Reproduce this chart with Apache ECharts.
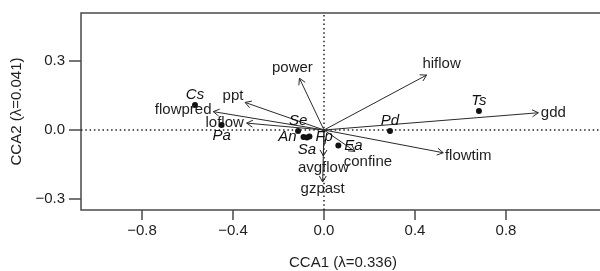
<!DOCTYPE html>
<html><head><meta charset="utf-8">
<script src="https://cdn.jsdelivr.net/npm/echarts@6/dist/echarts.min.js"></script>
<style>html,body{margin:0;padding:0;background:#fff}#c{width:600px;height:271px}</style>
</head><body><div id="c"></div>
<script>
// Environmental variable arrows (biplot scores)
const arrowNames = ['hiflow','gdd','flowtim','confine','avgflow','gzpast','power','ppt','flowpred','loflow'];
const arrowX = [0.451, 0.942, 0.524, 0.136, -0.003, -0.006, -0.108, -0.347, -0.487, -0.340];
const arrowY = [0.239, 0.075, -0.099, -0.093, -0.113, -0.226, 0.225, 0.120, 0.080, 0.030];
// Species scores
const speciesNames = ['Cs','Pa','Ts','Pd','Ea','Se','An','Sa','Fp'];
const speciesX = [-0.567, -0.450, 0.681, 0.290, 0.063, -0.114, -0.090, -0.075, -0.064];
const speciesY = [0.109, 0.022, 0.083, -0.004, -0.067, -0.004, -0.030, -0.033, -0.028];
// Tick labels
const xTicks = [-0.8, -0.4, 0, 0.4, 0.8];
const yTicks = [-0.3, 0, 0.3];
const xTitle = 'CCA1 (\u03bb=0.336)';
const yTitle = 'CCA2 (\u03bb=0.041)';

// label placement (styling)
const arrowLabelOffset = {
  hiflow:[15,-11], gdd:[15,0], flowtim:[25,3], confine:[13,10], avgflow:[0,12],
  gzpast:[0,7], power:[-7,-10], ppt:[-12,-7], flowpred:[-30,-2], loflow:[-22,0]
};
const speciesLabelPos = {
  Cs:['top',0], Pa:['bottom',0], Ts:['top',0], Pd:['top',0], Ea:['right',3],
  Se:['top',0], An:['left',4], Sa:['bottom',2], Fp:['right',3]
};

const FONT = "'Liberation Sans', Arial, sans-serif";
const TXT = '#1e1e1e';
const fmt = v => (v < 0 ? '\u2212' : '') + Math.abs(v).toFixed(1);

const chart = echarts.init(document.getElementById('c'), null, {renderer:'canvas'});
chart.setOption({
  animation: false,
  backgroundColor: '#fff',
  grid: {left: 81, top: 13, width: 524, height: 197, show: true, borderColor: '#4a4a4a', borderWidth: 1.5,
         backgroundColor: 'transparent', containLabel: false, outerBoundsMode: 'none'},
  xAxis: {
    type: 'value', min: -1.068, max: 1.235,
    axisLine: {show: false, onZero: false}, splitLine: {show: false},
    axisTick: {show: true, length: 10, customValues: xTicks, lineStyle: {color: '#4a4a4a', width: 1.5}},
    axisLabel: {customValues: xTicks, formatter: fmt, margin: 13, fontSize: 15, color: TXT, fontFamily: FONT},
    name: xTitle, nameLocation: 'middle', nameGap: 45,
    nameTextStyle: {fontSize: 15, color: TXT, fontFamily: FONT}
  },
  yAxis: {
    type: 'value', min: -0.348, max: 0.509,
    axisLine: {show: false, onZero: false}, splitLine: {show: false},
    axisTick: {show: true, length: 12, customValues: yTicks, lineStyle: {color: '#4a4a4a', width: 1.5}},
    axisLabel: {customValues: yTicks, formatter: fmt, margin: 16, fontSize: 15, color: TXT, fontFamily: FONT},
    name: yTitle, nameLocation: 'middle', nameGap: 49,
    nameTextStyle: {fontSize: 15, color: TXT, fontFamily: FONT}
  },
  series: [
    {
      type: 'custom', coordinateSystem: 'cartesian2d', z: 3,
      data: arrowNames.map((n, i) => ({name: n, value: [arrowX[i], arrowY[i]]})),
      renderItem: function (params, api) {
        const p0 = api.coord([0, 0]);
        const p1 = api.coord([api.value(0), api.value(1)]);
        const dx = p1[0] - p0[0], dy = p1[1] - p0[1];
        const len = Math.sqrt(dx*dx + dy*dy);
        const ux = dx/len, uy = dy/len;
        const L = 7, a = Math.PI/6;
        const h1 = [p1[0] - L*(ux*Math.cos(a) - uy*Math.sin(a)), p1[1] - L*(uy*Math.cos(a) + ux*Math.sin(a))];
        const h2 = [p1[0] - L*(ux*Math.cos(a) + uy*Math.sin(a)), p1[1] - L*(uy*Math.cos(a) - ux*Math.sin(a))];
        const name = arrowNames[params.dataIndex];
        const off = arrowLabelOffset[name];
        return {
          type: 'group',
          children: [
            {type: 'line', shape: {x1: p0[0], y1: p0[1], x2: p1[0], y2: p1[1]}, style: {stroke: '#2a2a2a', lineWidth: 1}},
            {type: 'polyline', shape: {points: [h1, p1, h2]}, style: {stroke: '#2a2a2a', lineWidth: 1, fill: null}},
            {type: 'text', x: p1[0] + off[0], y: p1[1] + off[1],
             style: {text: name, fill: TXT, fontSize: 15, fontFamily: FONT, align: 'center', verticalAlign: 'middle'}}
          ]
        };
      }
    },
    {
      type: 'scatter', z: 4, symbol: 'circle', symbolSize: 6,
      itemStyle: {color: '#111', opacity: 1},
      label: {show: true, color: '#111', fontStyle: 'italic', fontSize: 15, fontFamily: FONT},
      data: speciesNames.map((n, i) => ({
        name: n, value: [speciesX[i], speciesY[i]],
        label: {show: true, formatter: n, position: speciesLabelPos[n][0], distance: speciesLabelPos[n][1],
                fontStyle: 'italic', fontSize: 15, color: '#111', fontFamily: FONT}
      })),
      markLine: {
        silent: true, symbol: ['none', 'none'], label: {show: false}, z: 1,
        lineStyle: {type: [1.5, 2.8], color: '#222', width: 1.5},
        data: [{xAxis: 0}, {yAxis: 0}]
      }
    }
  ]
});
</script></body></html>
